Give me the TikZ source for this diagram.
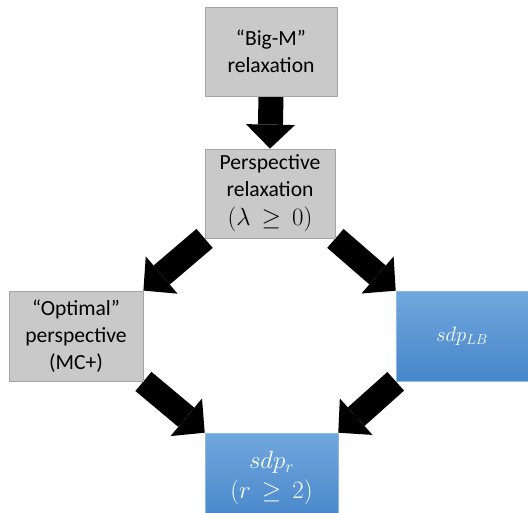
\documentclass[tikz,border=0pt]{standalone}
\usepackage{fontspec}
\setmainfont{Carlito}
\usepackage{tikz}
\usetikzlibrary{arrows.meta,backgrounds}
\definecolor{boxgrey}{HTML}{C9C9C9}
\definecolor{edgegrey}{HTML}{A5A5A5}
\definecolor{blueTop}{HTML}{70A7DD}
\definecolor{blueBot}{HTML}{4786CA}
\newcommand{\mathbig}{\fontsize{23}{27}\selectfont}

\tikzset{
  relax/.style={draw=edgegrey, line width=0.8pt, fill=boxgrey, minimum width=132pt,
    minimum height=89pt, inner sep=0pt, align=center, text=black},
  sdpbox/.style={draw=blueTop!80!white, line width=0.6pt, top color=blueTop, bottom color=blueBot,
    minimum width=132pt, minimum height=90pt, inner sep=0pt, align=center, text=white},
  bigarrow/.style={line width=25pt, black,
    -{Triangle[length=24pt, width=49pt, line width=0pt]}}
}

\begin{document}
\begin{tikzpicture}[x=1pt, y=-1pt, font=\fontsize{21.6}{27}\selectfont]
  \useasboundingbox (0,0) rectangle (528,512);
  % boxes
  \node[relax] (bigm) at (271,51.5) {“Big-M”\\relaxation};
  \node[relax, minimum width=130pt] (persp) at (270,193.5) {Perspective\\relaxation\\[2pt]{\mathbig$(\lambda\,\geq\,0)$}};
  \node[relax, minimum width=134pt, minimum height=90pt] (optimal) at (76,336) {“Optimal”\\perspective\\(MC+)};
  \node[sdpbox] (sdplb) at (462,336) {$sdp_{LB}$};
  \node[sdpbox, minimum width=133pt] (sdpr) at (271.5,478) {{\mathbig$sdp_r$}\\[3pt]{\mathbig$(r\,\geq\,2)$}};
  % arrows
  \begin{scope}[on background layer]
    \draw[bigarrow] (bigm.south) -- (persp.north);
    \draw[bigarrow] (persp.south west) -- (optimal.north east);
    \draw[bigarrow] (persp.south east) -- (sdplb.north west);
    \draw[bigarrow] (optimal.south east) -- (sdpr.north west);
    \draw[bigarrow] (sdplb.south west) -- (sdpr.north east);
  \end{scope}
\end{tikzpicture}
\end{document}
